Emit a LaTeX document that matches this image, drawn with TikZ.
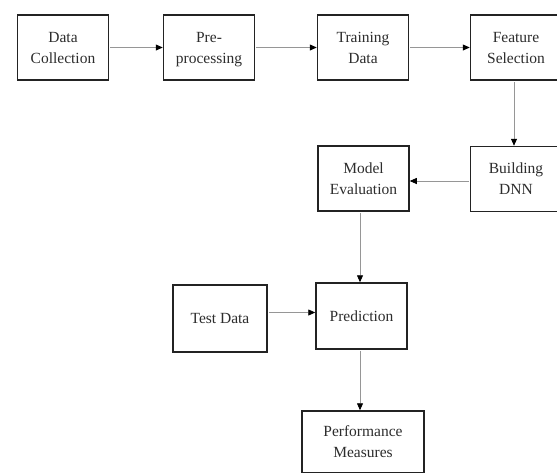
\documentclass[tikz,border=0pt]{standalone}
\usepackage{fontspec}
\setmainfont{Liberation Serif}
\usetikzlibrary{arrows.meta}
\definecolor{wirecol}{RGB}{150,150,150}
\definecolor{boxcol}{RGB}{35,35,35}
\definecolor{textcol}{RGB}{45,45,45}
\tikzset{
  stagebox/.style={draw=boxcol,line width=1.5pt,fill=white,align=center,
    minimum width=91pt,minimum height=65pt,inner sep=0pt,text=textcol,
    text depth=-2pt,font=\fontsize{15.5}{21}\selectfont},
  flow/.style={draw=wirecol,line width=0.8pt,shorten <=1pt,
    -{Triangle[length=7pt,width=6pt,color=black]}}
}
\begin{document}
\begin{tikzpicture}[scale=1.000000,x=1pt,y=-1pt]
\clip (0.000000,0.000000) rectangle (557.000000,472.000000);
\fill[white] (0.000000,0.000000) rectangle (557.000000,472.000000);
% Drawing stages: top row
\node[stagebox] (collect) at (63.000000,47.500000) {Data\\Collection};
\node[stagebox] (preproc) at (209.000000,47.500000) {Pre-\\processing};
\node[stagebox] (train) at (363.000000,47.500000) {Training\\Data};
\node[stagebox] (feature) at (516.000000,47.500000) {Feature\\Selection};
% Middle row
\node[stagebox] (dnn) at (516.000000,179.000000) {Building\\DNN};
\node[stagebox] (evaluate) at (363.500000,178.500000) {Model\\Evaluation};
% Bottom part
\node[stagebox,minimum width=94pt,minimum height=67pt] (testdata) at (220.000000,318.500000) {Test Data};
\node[stagebox,minimum height=66pt] (predict) at (361.500000,316.000000) {Prediction};
\node[stagebox,minimum width=122pt,minimum height=62pt] (measures) at (363.000000,442.000000) {Performance\\Measures};
% Done with stages; drawing connectors
\draw[flow] (collect.east) -- (preproc.west);
\draw[flow] (preproc.east) -- (train.west);
\draw[flow] (train.east) -- (feature.west);
\draw[flow] ([xshift=-2pt]feature.south) -- ([xshift=-2pt]dnn.north);
\draw[flow] ([yshift=-2pt]dnn.west) -- ([yshift=-2pt]dnn.west -| evaluate.east);
\draw[flow] ([xshift=-3.5pt]evaluate.south) -- ([xshift=-3.5pt]evaluate.south |- predict.north);
\draw[flow] ([yshift=6pt]testdata.east) -- ([yshift=6pt]testdata.east -| predict.west);
\draw[flow] ([xshift=-1.5pt]predict.south) -- ([xshift=-1.5pt]predict.south |- measures.north);
% Done with connectors
\end{tikzpicture}
\end{document}
